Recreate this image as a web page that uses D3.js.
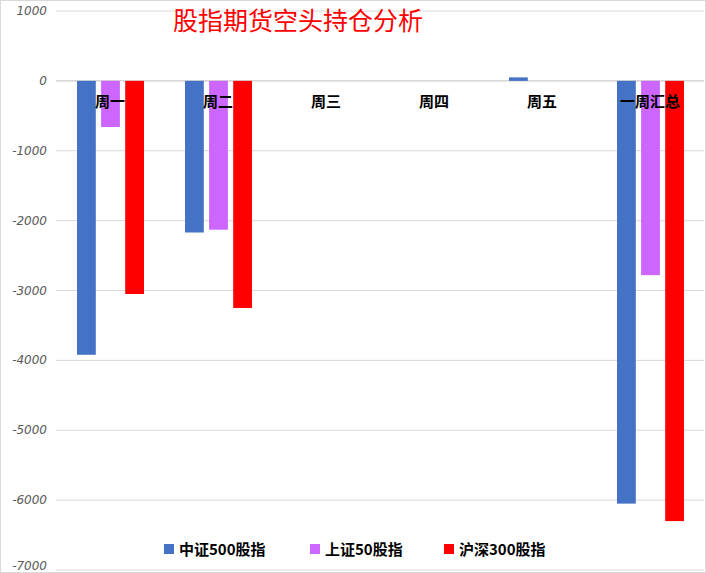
<!DOCTYPE html><html><head><meta charset="utf-8"><script src="https://cdn.jsdelivr.net/npm/d3@7"></script>
<style>body{margin:0;background:#fff}</style></head><body><svg id="c" width="706" height="573"></svg>
<script>
const categories=["周一","周二","周三","周四","周五","一周汇总"];
const seriesNames=["中证500股指","上证50股指","沪深300股指"];
const colors=["#4472C4","#CC66FF","#FF0000"];
const zz500=[-3920,-2170,0,0,50,-6050];
const sz50=[-660,-2130,0,0,0,-2780];
const hs300=[-3050,-3250,0,0,0,-6300];
const yTicks=[1000,0,-1000,-2000,-3000,-4000,-5000,-6000,-7000];
const series=[zz500,sz50,hs300];
const svg=d3.select("#c");
svg.append("rect").attr("x",0.5).attr("y",0.5).attr("width",705).attr("height",572).attr("fill","#fff").attr("stroke","#d9d9d9");
const y=d3.scaleLinear().domain([-7000,1000]).range([570,11]);
const x=d3.scaleBand().domain(categories).range([56,704]);
const xs=d3.scaleBand().domain([0,1,2]).range([21,88]).paddingInner(0.22);
svg.append("g").selectAll("line").data(yTicks).join("line").attr("x1",56).attr("x2",704)
 .attr("y1",d=>y(d)).attr("y2",d=>y(d)).attr("stroke",d=>d==0?"#bfbfbf":"#d9d9d9");
svg.append("g").selectAll("text").data(yTicks).join("text").attr("x",47).attr("y",d=>Math.min(y(d)+4,570))
 .attr("text-anchor","end").attr("font-size",12).attr("font-style","italic").attr("fill","#595959")
 .attr("font-family","DejaVu Sans").text(d=>d);
series.forEach((s,i)=>{
 svg.append("g").selectAll("rect").data(s).join("rect")
  .attr("x",(d,j)=>x(categories[j])+xs(i)).attr("width",xs.bandwidth())
  .attr("y",d=>y(Math.max(0,d))).attr("height",d=>Math.abs(y(d)-y(0))).attr("fill",colors[i]);
});
svg.append("g").selectAll("text").data(categories).join("text").attr("x",d=>x(d)+x.bandwidth()/2).attr("y",107)
 .attr("text-anchor","middle").attr("font-size",15).attr("font-weight","bold").attr("font-family","Noto Sans CJK SC").text(d=>d);
svg.append("text").attr("x",298).attr("y",30).attr("text-anchor","middle").attr("fill","#FF0000")
 .attr("font-size",25).attr("font-family","Noto Sans CJK SC").text("股指期货空头持仓分析");
const lx=[164,310,444];
seriesNames.forEach((n,i)=>{
 svg.append("rect").attr("x",lx[i]).attr("y",544).attr("width",10).attr("height",10).attr("fill",colors[i]);
 svg.append("text").attr("x",lx[i]+15).attr("y",555).attr("font-size",15).attr("font-weight","bold")
  .attr("font-family","Noto Sans CJK SC").text(n);
});
</script></body></html>
